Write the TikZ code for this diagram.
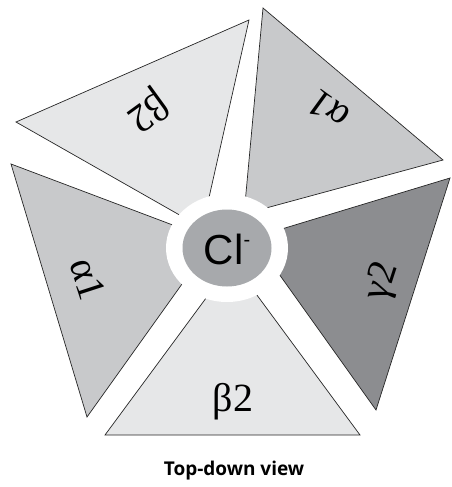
\documentclass[tikz,border=0pt]{standalone}
\usepackage{fontspec}
\setmainfont{Liberation Serif}
\newfontfamily\clfont{Liberation Sans}
\newfontfamily\capfont{Open Sans}
\definecolor{subLight}{HTML}{E6E7E8}
\definecolor{subMid}{HTML}{C8C9CB}
\definecolor{subDark}{HTML}{8C8D90}
\definecolor{ionGray}{HTML}{A7A9AC}
\tikzset{
  subunit/.style={draw=black!85, line width=0.7pt, line join=miter},
  sublabel/.style={font=\fontsize{40}{40}\selectfont, inner sep=0pt}
}
\begin{document}
\begin{tikzpicture}[x=1pt,y=-1pt]
    \useasboundingbox (0,0) rectangle (451,487);

    % Untereinheiten (Pentamer)
    \draw[subunit, fill=subLight] (105,435) -- (360,435) -- (251,287) -- (212,290) -- cycle;
    \draw[subunit, fill=subDark] (450,178) -- (376,410) -- (274,267) -- (273.5,231.5) -- cycle;
    \draw[subunit, fill=subMid] (263,8) -- (443,160) -- (258.4,210.1) -- (244.9,205) -- cycle;
    \draw[subunit, fill=subLight] (16,122) -- (249,20) -- (207.4,204.7) -- (186.4,218.9) -- cycle;
    \draw[subunit, fill=subMid] (11,164) -- (87,417) -- (189,274.2) -- (181.2,228.2) -- cycle;

    % Pore
    \fill[white] (227,248) ellipse [x radius=61, y radius=54];
    \fill[ionGray] (227,248) ellipse [x radius=44.5, y radius=38.5];
    \node[font=\clfont\fontsize{42}{42}\selectfont, inner sep=0pt] (ion) at (227,249) {Cl\raisebox{0.42em}{\fontsize{20}{20}\selectfont -}};

    % Beschriftung
    \node[sublabel] (beta2b) at (233,402) {β2};
    \node[sublabel, rotate=72] (gamma2) at (383,282) {γ2};
    \node[sublabel, rotate=144] (alpha1r) at (328,110) {α1};
    \node[sublabel, rotate=-144] (beta2t) at (147,110) {β2};
    \node[sublabel, rotate=-72] (alpha1l) at (88,279) {α1};

    \node[font=\capfont\bfseries\fontsize{19}{19}\selectfont] (caption) at (234,471) {Top-down view};

\end{tikzpicture}
\end{document}
